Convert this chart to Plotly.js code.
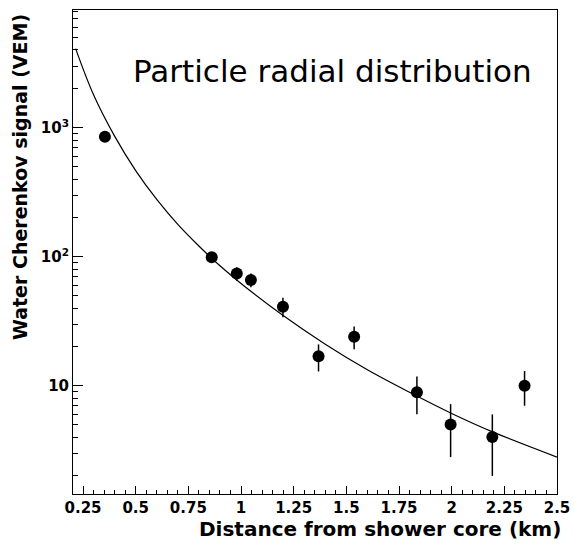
<!DOCTYPE html>
<html>
<head>
<meta charset="utf-8">
<script src="https://cdn.plot.ly/plotly-3.0.1.min.js"></script>
<style>html,body{margin:0;padding:0;background:#fff}#chart{width:574px;height:544px}</style>
</head>
<body>
<div id="chart"></div>
<script>
// Measured stations
var distanceKm = [0.354, 0.861, 0.980, 1.047, 1.199, 1.368, 1.537, 1.835, 1.995, 2.193, 2.346];
var signalVEM  = [851, 99, 74, 66, 41, 16.9, 24, 8.9, 5.0, 4.0, 10.0];
var signalErr  = [50, 7, 9, 8, 7, 4, 4.8, 2.9, 2.2, 2.0, 3.0];

// Fitted lateral distribution
var fitDistanceKm = [0.215, 0.3, 0.4, 0.5, 0.6, 0.7, 0.8, 0.9, 1.0, 1.2, 1.4, 1.6, 1.8, 2.0, 2.2, 2.5];
var fitSignalVEM  = [4100, 1800, 860, 465, 278, 178, 121, 85, 62, 35, 21, 13.3, 8.9, 6.1, 4.35, 2.8];

// Axis ticks
var xTickVals = [0.25, 0.5, 0.75, 1, 1.25, 1.5, 1.75, 2, 2.25, 2.5];
var xTickText = ['0.25', '0.5', '0.75', '1', '1.25', '1.5', '1.75', '2', '2.25', '2.5'];
var yTickVals = [10, 100, 1000];
var yTickText = ['10', '10<sup>2</sup>', '10<sup>3</sup>'];
var yMinorVals = [2,3,4,5,6,7,8,9,20,30,40,50,60,70,80,90,200,300,400,500,600,700,800,900,2000,3000,4000,5000,6000,7000,8000];

var traces = [
  {
    x: fitDistanceKm, y: fitSignalVEM, type: 'scatter', mode: 'lines',
    line: {color: '#000', width: 1.2, shape: 'spline', smoothing: 1.0},
    hoverinfo: 'skip', showlegend: false
  },
  {
    x: distanceKm, y: signalVEM, type: 'scatter', mode: 'markers',
    marker: {color: '#000', size: 12, symbol: 'circle'},
    error_y: {type: 'data', array: signalErr, visible: true, color: '#000', thickness: 1.5, width: 0},
    showlegend: false
  }
];

var tickFont = {family: 'DejaVu Sans', size: 15, color: '#000', weight: 'bold'};

var layout = {
  width: 574, height: 544,
  margin: {l: 73, r: 17, t: 10, b: 50, pad: 0},
  paper_bgcolor: '#fff', plot_bgcolor: '#fff',
  showlegend: false,
  title: {
    text: 'Particle radial distribution',
    font: {family: 'DejaVu Sans', size: 31, color: '#000'},
    x: 0.579, xanchor: 'center', y: 0.8695, yanchor: 'middle', xref: 'container', yref: 'container'
  },
  xaxis: {
    type: 'linear', range: [0.2025, 2.5],
    showline: true, linecolor: '#000', linewidth: 1, mirror: true,
    showgrid: false, zeroline: false,
    tickmode: 'array', tickvals: xTickVals, ticktext: xTickText,
    ticks: 'inside', ticklen: 8, tickwidth: 1, tickcolor: '#000',
    tickfont: tickFont,
    minor: {dtick: 0.05, tick0: 0, ticks: 'inside', ticklen: 4, tickwidth: 1, tickcolor: '#000', showgrid: false}
  },
  yaxis: {
    type: 'log', range: [0.161, 3.912],
    showline: true, linecolor: '#000', linewidth: 1, mirror: true,
    showgrid: false, zeroline: false,
    tickmode: 'array', tickvals: yTickVals, ticktext: yTickText,
    ticks: 'inside', ticklen: 10, tickwidth: 1, tickcolor: '#000',
    tickfont: tickFont,
    minor: {tickmode: 'array', tickvals: yMinorVals, ticks: 'inside', ticklen: 5, tickwidth: 1, tickcolor: '#000', showgrid: false}
  },
  annotations: [
    {
      text: 'Distance from shower core (km)', xref: 'paper', yref: 'paper',
      x: 1.013, y: -0.0714, xanchor: 'right', yanchor: 'middle', showarrow: false,
      font: {family: 'DejaVu Sans', size: 20, color: '#000', weight: 'bold'}
    },
    {
      text: 'Water Cherenkov signal (VEM)', xref: 'paper', yref: 'paper',
      x: -0.1107, y: 0.9965, xanchor: 'center', yanchor: 'top', textangle: -90, showarrow: false,
      font: {family: 'DejaVu Sans', size: 19, color: '#000', weight: 'bold'}
    }
  ]
};

Plotly.newPlot('chart', traces, layout, {displayModeBar: false, staticPlot: true});
</script>
</body>
</html>
